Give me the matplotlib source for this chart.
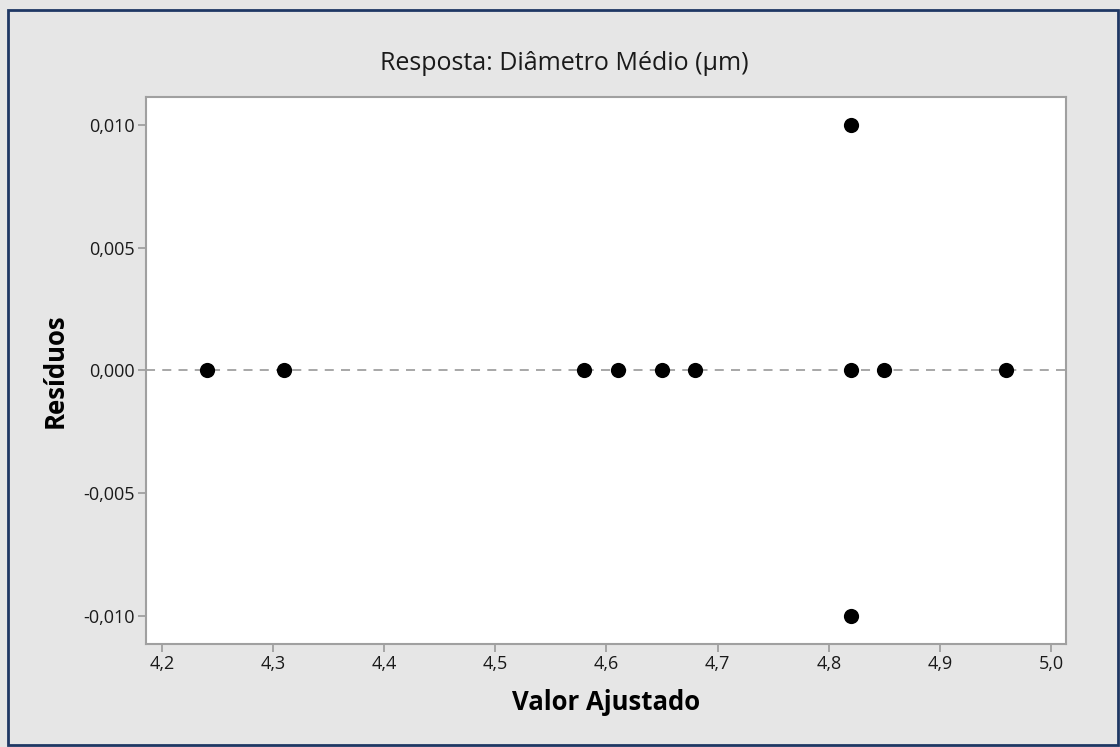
import matplotlib
matplotlib.use("Agg")
import matplotlib.pyplot as plt
from matplotlib.patches import Rectangle
from matplotlib.ticker import FuncFormatter

# ============================================================
# Data
# ============================================================
fitted = [4.24, 4.31, 4.58, 4.61, 4.65, 4.68, 4.82, 4.82, 4.82, 4.85, 4.96]
residuals = [0.0, 0.0, 0.0, 0.0, 0.0, 0.0, 0.010, 0.0, -0.010, 0.0, 0.0]

x_ticks = [4.2, 4.3, 4.4, 4.5, 4.6, 4.7, 4.8, 4.9, 5.0]
y_ticks = [-0.010, -0.005, 0.0, 0.005, 0.010]

title = "Resposta: Diâmetro Médio (µm)"
xlabel = "Valor Ajustado"
ylabel = "Resíduos"

plt.rcParams["font.family"] = ["Open Sans", "DejaVu Sans"]

bg = "#e6e6e6"
axis_gray = "#a0a0a0"

fig = plt.figure(figsize=(11.2, 7.47), dpi=100, facecolor=bg)
W, H = 1120, 747
ax = fig.add_axes([146 / W, 1 - 644 / H, (1066 - 146) / W, (644 - 97) / H])
ax.set_facecolor("white")

ax.axhline(0, color=axis_gray, linestyle=(0, (5, 4)), linewidth=1.3, zorder=1)
ax.scatter(fitted, residuals, s=120, color="black", zorder=3, linewidths=0)

ax.set_xlim(4.1855, 5.0136)
ax.set_ylim(-0.01114, 0.01114)
ax.set_xticks(x_ticks)
ax.set_yticks(y_ticks)

ax.xaxis.set_major_formatter(FuncFormatter(lambda v, p: f"{v:.1f}".replace(".", ",")))
ax.yaxis.set_major_formatter(
    FuncFormatter(lambda v, p: f"{v:.3f}".replace(".", ",").replace("-0,000", "0,000"))
)

for s in ax.spines.values():
    s.set_color(axis_gray)
    s.set_linewidth(1.5)

ax.tick_params(axis="both", direction="out", length=6, width=1.3, color=axis_gray,
               labelsize=13, labelcolor="#1a1a1a", pad=2)

ax.set_xlabel(xlabel, fontsize=18.5, fontweight="bold", labelpad=8)
ax.set_ylabel(ylabel, fontsize=18.5, fontweight="bold", labelpad=10)
ax.yaxis.set_label_coords((55 - 146) / (1066 - 146), 0.5)
ax.xaxis.set_label_coords(0.5, -(703 - 644) / (644 - 97))
ax.xaxis.label.set_va("center")
ax.yaxis.label.set_va("center")
fig.text(564 / W, 1 - 64 / H, title, ha="center", va="center", fontsize=18, color="#1a1a1a")

# figure border
fig.patches.append(Rectangle((8 / W, 2 / H), 1110 / W, 1 - 12 / H, transform=fig.transFigure,
                             fill=False, edgecolor="#1f3864", linewidth=2))

fig.savefig("out.png", dpi=100, facecolor=bg)
